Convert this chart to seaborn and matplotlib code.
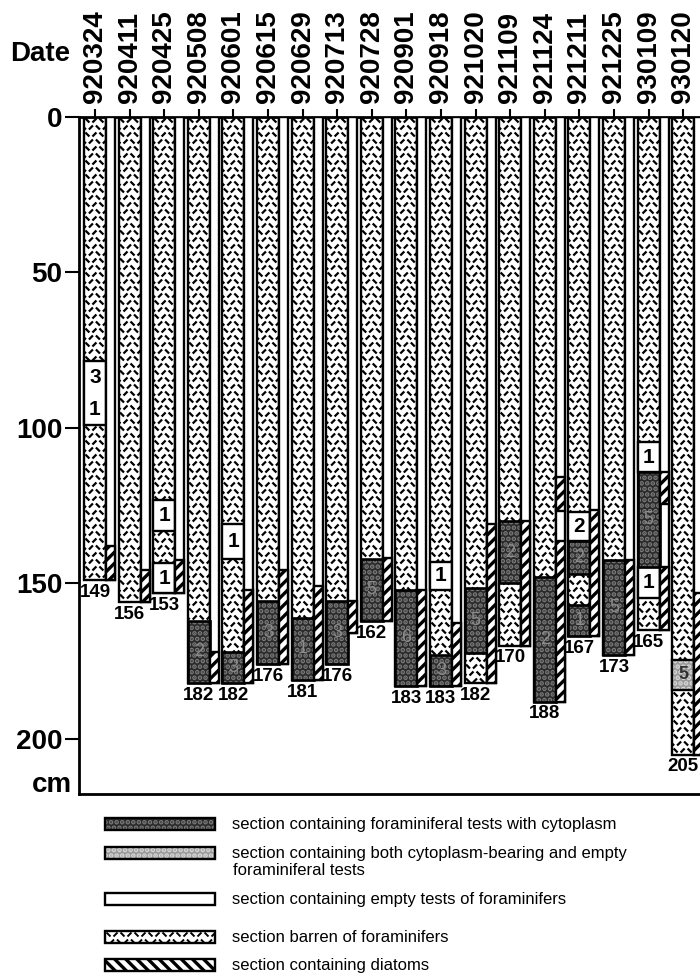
import numpy as np
import pandas as pd
import matplotlib
matplotlib.use("Agg")
import matplotlib.pyplot as plt
import seaborn as sns
from matplotlib.patches import Rectangle
from matplotlib.collections import LineCollection

# ---------------- data ----------------
dates = ["920324", "920411", "920425", "920508", "920601", "920615", "920629",
         "920713", "920728", "920901", "920918", "921020", "921109", "921124",
         "921211", "921225", "930109", "930120"]
core_length = [149, 156, 153, 182, 182, 176, 181, 176, 162, 183, 183, 182,
               170, 188, 167, 173, 165, 205]
diatom_column_length = [149, 156, 153, 182, 182, 176, 181, 166, 162, 183, 183,
                        182, 170, 188, 167, 173, 165, 205]

# sections with empty foraminiferal tests (number of tests)
empty_core = [0, 2, 2, 4, 10, 14, 16, 16]
empty_top = [78.6, 123.0, 143.5, 131.0, 143.0, 127.0, 104.4, 144.6]
empty_bottom = [99.0, 133.0, 153.0, 142.0, 152.0, 136.5, 114.3, 154.7]
empty_count = ["3\n1", "1", "1", "1", "1", "2", "1", "1"]

# sections with cytoplasm-bearing tests
cyto_core = [3, 4, 5, 6, 7, 8, 9, 10, 11, 12, 13, 14, 14, 15, 16]
cyto_top = [162.0, 172.0, 155.5, 161.0, 155.5, 142.0, 152.0, 173.0, 151.5,
            130.0, 148.0, 136.5, 157.0, 142.6, 114.3]
cyto_bottom = [182.0, 182.0, 176.0, 181.0, 176.0, 162.0, 183.0, 183.0, 172.5,
               150.0, 188.0, 147.0, 167.0, 173.0, 144.6]
cyto_count = ["2", "3", "3", "1", "3", "5", "6", "3", "5", "2", "2", "2", "1",
              "5", "5"]

# sections with both cytoplasm-bearing and empty tests
both_core = [17]
both_top = [174.6]
both_bottom = [184.2]
both_count = ["5"]

# sections containing diatoms
diatom_core = [0, 1, 2, 3, 4, 5, 6, 7, 8, 9, 10, 11, 12, 13, 13, 14, 15, 16,
               16, 17]
diatom_top = [138.0, 145.6, 142.6, 172.0, 152.0, 145.7, 150.8, 155.5, 141.8,
              152.0, 162.7, 130.8, 130.0, 115.8, 136.3, 126.4, 142.6, 114.3,
              144.6, 153.0]
diatom_bottom = [149.0, 156.0, 153.0, 182.0, 182.0, 176.0, 181.0, 166.0, 162.0,
                 183.0, 183.0, 182.0, 170.0, 126.8, 188.0, 167.0, 173.0, 124.4,
                 165.0, 205.0]

legend_labels = [
    "section containing foraminiferal tests with cytoplasm",
    "section containing both cytoplasm-bearing and empty",
    "section containing empty tests of foraminifers",
    "section barren of foraminifers",
    "section containing diatoms",
]
legend_label_cont = "foraminiferal tests"

# ---------------- style ----------------
sns.set_theme(style="white", rc={"axes.edgecolor": "black",
                                 "xtick.color": "black", "ytick.color": "black",
                                 "text.color": "black",
                                 "axes.labelcolor": "black",
                                 "hatch.linewidth": 2.4})
plt.rcParams["font.family"] = ["Liberation Sans", "DejaVu Sans"]

W, H = 700, 980
fig = plt.figure(figsize=(7, 9.8), dpi=100)
ax_l, ax_r, ax_t, ax_b = 79, 700, 117, 794
ax = fig.add_axes([ax_l / W, 1 - ax_b / H, (ax_r - ax_l) / W, (ax_b - ax_t) / H])

XMIN, XMAX = -0.462, 17.486
YMAX = 217.7
sx = (ax_r - ax_l) / (XMAX - XMIN)   # px per x unit
sy = (ax_b - ax_t) / YMAX            # px per cm

WIDE = 0.64
NARROW = 0.26
NOFF = WIDE / 2 + NARROW / 2

df = pd.DataFrame({"date": dates, "length": core_length})
sns.barplot(data=df, x="date", y="length", color="white", saturation=1,
            edgecolor="black", linewidth=1.7, width=WIDE, errorbar=None,
            ax=ax, zorder=2)
core_bars = list(ax.patches)


def dash_segments(x0, x1, y0, y1, kx, ky, step=7.0, half=2.0):
    w = abs(x1 - x0) * kx
    h = abs(y1 - y0) * ky
    segs = []
    nrows = int(h / step) + 2
    ncols = int(w / step) + 2
    for r in range(nrows):
        for c in range(-1, ncols):
            px = (c + 0.5 * (r % 2)) * step + step / 2
            py = r * step + step / 2
            o = 1 if (r + c) % 2 == 0 else -1
            segs.append([(x0 + (px - half) / kx, y0 + (py - o * half) / ky),
                         (x0 + (px + half) / kx, y0 + (py + o * half) / ky)])
    return segs


# barren texture on every core
for bar in core_bars:
    x0 = bar.get_x()
    segs = dash_segments(x0, x0 + bar.get_width(), 0, bar.get_height(), sx, sy)
    lc = LineCollection(segs, colors="black", linewidths=1.6, zorder=2.5)
    ax.add_collection(lc)
    lc.set_clip_path(bar)

# empty-test sections
e_top = np.array(empty_top)
e_bot = np.array(empty_bottom)
ax.bar(np.array(empty_core), e_bot - e_top, bottom=e_top, width=WIDE,
       color="white", edgecolor="black", linewidth=1.7, zorder=3)
for c, t, b, s in zip(empty_core, empty_top, empty_bottom, empty_count):
    lines = s.split("\n")
    n = len(lines)
    for k, txt in enumerate(lines):
        yy = t + (b - t) * (k + 0.5) / n
        ax.text(c, yy, txt, ha="center", va="center", fontsize=15,
                fontweight="bold", zorder=6)

# cytoplasm sections
c_top = np.array(cyto_top)
c_bot = np.array(cyto_bottom)
ax.bar(np.array(cyto_core), c_bot - c_top, bottom=c_top, width=WIDE,
       color="#2a2a2a", edgecolor="#7a7a7a", hatch="...", linewidth=0, zorder=3)
ax.bar(np.array(cyto_core), c_bot - c_top, bottom=c_top, width=WIDE,
       facecolor="none", edgecolor="black", linewidth=1.9, zorder=3.2)
for c, t, b, s in zip(cyto_core, cyto_top, cyto_bottom, cyto_count):
    ax.text(c, (t + b) / 2, s, ha="center", va="center", fontsize=13,
            color="#8c8c8c", zorder=6)

# both sections
b_top = np.array(both_top)
b_bot = np.array(both_bottom)
ax.bar(np.array(both_core), b_bot - b_top, bottom=b_top, width=WIDE,
       color="#9a9a9a", edgecolor="#d8d8d8", hatch="...", linewidth=0, zorder=3)
ax.bar(np.array(both_core), b_bot - b_top, bottom=b_top, width=WIDE,
       facecolor="none", edgecolor="black", linewidth=1.7, zorder=3.2)
for c, t, b, s in zip(both_core, both_top, both_bottom, both_count):
    ax.text(c, (t + b) / 2, s, ha="center", va="center", fontsize=13,
            color="#303030", fontweight="bold", zorder=6)

# diatom columns
xs = np.arange(len(dates)) + NOFF
ax.bar(xs, diatom_column_length, width=NARROW, color="white",
       edgecolor="black", linewidth=1.7, zorder=3)
d_top = np.array(diatom_top)
d_bot = np.array(diatom_bottom)
ax.bar(np.array(diatom_core) + NOFF, d_bot - d_top, bottom=d_top, width=NARROW,
       facecolor="white", edgecolor="black", hatch="///", linewidth=1.7,
       zorder=3.5)

# core length labels
for i, L in enumerate(core_length):
    ax.text(i, L + 1.2, str(L), ha="center", va="top", fontsize=13.5,
            fontweight="bold", zorder=6)

# axes formatting
ax.set_xlim(XMIN, XMAX)
ax.set_ylim(YMAX, 0)
ax.set_xlabel("")
ax.set_ylabel("")
ax.xaxis.tick_top()
ax.set_xticks(range(len(dates)))
ax.set_xticklabels(dates, rotation=90, fontsize=20, fontweight="bold")
ax.set_yticks([0, 50, 100, 150, 200])
ax.set_yticklabels(["0", "50", "100", "150", "200"], fontsize=20,
                   fontweight="bold")
ax.tick_params(axis="x", which="both", top=True, bottom=False, length=6,
               width=1.5, pad=4, direction="out")
ax.tick_params(axis="y", left=True, length=10, width=1.5, pad=2,
               direction="out")
for side in ["top", "left", "bottom"]:
    ax.spines[side].set_linewidth(2.0)
    ax.spines[side].set_color("black")
ax.spines["right"].set_visible(False)
ax.grid(False)

fig.text(40 / W, 1 - 54 / H, "Date", ha="center", va="center", fontsize=20,
         fontweight="bold")
fig.text(72 / W, 1 - 792 / H, "cm", ha="right", va="baseline", fontsize=20,
         fontweight="bold")

# ---------------- legend ----------------
lax = fig.add_axes([0, 0, 1, 1], zorder=-1)
lax.set_xlim(0, W)
lax.set_ylim(H, 0)
lax.axis("off")
lx0, lx1, sh = 105, 215, 12
rows = [824, 853, 899, 937, 965]
tx = 232
fs_leg = 12

# cytoplasm swatch
lax.add_patch(Rectangle((lx0, rows[0] - sh / 2), lx1 - lx0, sh, facecolor="#2a2a2a",
                        edgecolor="#7a7a7a", hatch="...", linewidth=0))
lax.add_patch(Rectangle((lx0, rows[0] - sh / 2), lx1 - lx0, sh, facecolor="none",
                        edgecolor="black", linewidth=1.7))
# both swatch
lax.add_patch(Rectangle((lx0, rows[1] - sh / 2), lx1 - lx0, sh, facecolor="#9a9a9a",
                        edgecolor="#d8d8d8", hatch="...", linewidth=0))
lax.add_patch(Rectangle((lx0, rows[1] - sh / 2), lx1 - lx0, sh, facecolor="none",
                        edgecolor="black", linewidth=1.7))
# empty swatch
lax.add_patch(Rectangle((lx0, rows[2] - sh / 2), lx1 - lx0, sh, facecolor="white",
                        edgecolor="black", linewidth=1.7))
# barren swatch
bsw = Rectangle((lx0, rows[3] - sh / 2), lx1 - lx0, sh, facecolor="white",
                edgecolor="black", linewidth=1.7)
lax.add_patch(bsw)
segs = dash_segments(lx0, lx1, rows[3] - sh / 2, rows[3] + sh / 2, 1, 1)
lc = LineCollection(segs, colors="black", linewidths=1.4)
lax.add_collection(lc)
lc.set_clip_path(bsw)
# diatom swatch
lax.add_patch(Rectangle((lx0, rows[4] - sh / 2), lx1 - lx0, sh, facecolor="white",
                        edgecolor="black", hatch="\\\\\\", linewidth=1.7))

for r, lab in zip(rows, legend_labels):
    lax.text(tx, r, lab, ha="left", va="center", fontsize=fs_leg)
lax.text(tx + 1, (rows[1] + rows[2]) / 2 - 6, legend_label_cont, ha="left",
         va="center", fontsize=fs_leg)

fig.savefig("out.png", dpi=100)
